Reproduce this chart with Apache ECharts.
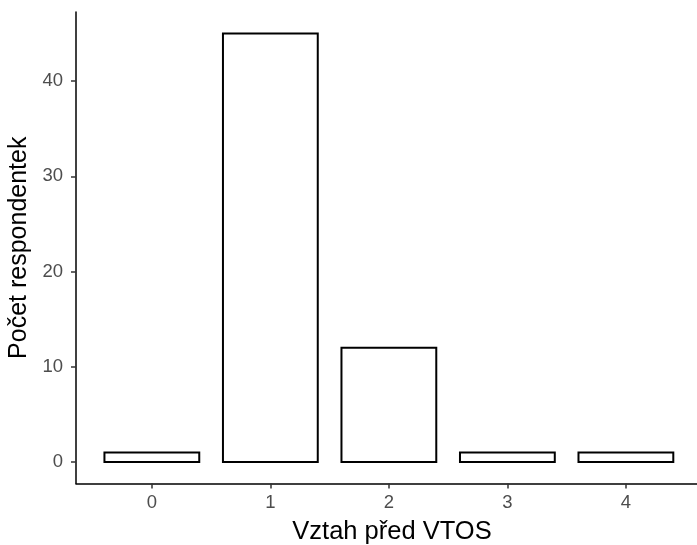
<!DOCTYPE html>
<html>
<head>
<meta charset="utf-8">
<script src="https://cdn.jsdelivr.net/npm/echarts@6/dist/echarts.min.js"></script>
<style>
  html, body { margin: 0; padding: 0; background: #fff; }
  #chart { width: 697px; height: 545px; }
</style>
</head>
<body>
<div id="chart"></div>
<script>
// data
var categories = [0, 1, 2, 3, 4]
var counts = [1, 45, 12, 1, 1]
var yTicks = [0, 10, 20, 30, 40]

var chart = echarts.init(document.getElementById('chart'))

var barData = categories.map(function (c, i) {
  return [c, counts[i]]
})

chart.setOption({
  animation: false,
  textStyle: { fontFamily: 'Liberation Sans, Arial, sans-serif' },
  grid: { left: 76, top: 12, width: 621, height: 471.5, outerBoundsMode: 'none', containLabel: false },
  xAxis: {
    type: 'value',
    min: -0.64,
    max: 4.6,
    name: 'Vztah před VTOS',
    nameLocation: 'middle',
    nameGap: 35,
    nameTextStyle: { fontSize: 25.5, color: '#000', padding: [0, 0, 0, 11] },
    axisLine: { show: true, onZero: false, lineStyle: { color: '#000', width: 1.5 } },
    axisTick: { show: true, length: 5, lineStyle: { color: '#333', width: 1.5 }, customValues: categories },
    axisLabel: { fontSize: 18.5, color: '#4d4d4d', margin: 10, customValues: categories },
    splitLine: { show: false }
  },
  yAxis: {
    type: 'value',
    min: -2.25,
    max: 47.25,
    name: 'Počet respondentek',
    nameLocation: 'middle',
    nameGap: 42,
    nameTextStyle: { fontSize: 25, color: '#000' },
    axisLine: { show: true, onZero: false, lineStyle: { color: '#000', width: 1.5 } },
    axisTick: { show: true, length: 5, lineStyle: { color: '#333', width: 1.5 }, customValues: yTicks },
    axisLabel: { fontSize: 18.5, color: '#4d4d4d', margin: 13, customValues: yTicks },
    splitLine: { show: false }
  },
  series: [
    {
      type: 'custom',
      data: barData,
      renderItem: function (params, api) {
        var x = api.value(0)
        var y = api.value(1)
        var p0 = api.coord([x - 0.4, y])
        var p1 = api.coord([x + 0.4, 0])
        return {
          type: 'rect',
          shape: { x: p0[0], y: p0[1], width: p1[0] - p0[0], height: p1[1] - p0[1] },
          style: { fill: '#fff', stroke: '#000', lineWidth: 2 }
        }
      }
    }
  ]
})
</script>
</body>
</html>
